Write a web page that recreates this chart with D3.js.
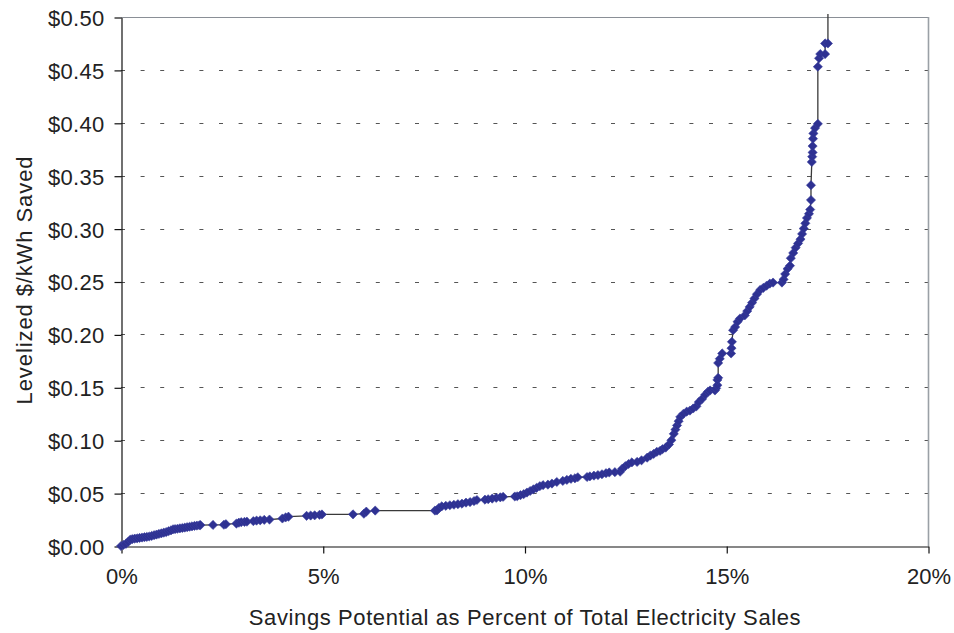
<!DOCTYPE html>
<html>
<head>
<meta charset="utf-8">
<script src="https://cdn.jsdelivr.net/npm/d3@7"></script>
<style>
  html, body { margin: 0; padding: 0; background: #fff; }
  svg { display: block; }
  text { font-family: "Liberation Sans", Arial, Helvetica, sans-serif; fill: #222; }
</style>
</head>
<body>
<svg id="chart" width="954" height="633"></svg>
<script>
// ---- Data ----
// Savings potential (% of total electricity sales), cumulative
const savingsPct = [
  0, 0.06, 0.12, 0.18, 0.23, 0.28, 0.34, 0.40, 0.46, 0.52, 0.58, 0.64, 0.70, 0.76, 0.82, 0.88, 0.94, 1.00,
  1.06, 1.12, 1.18, 1.24, 1.29, 1.34, 1.40, 1.46, 1.52, 1.58, 1.64, 1.70, 1.76, 1.82, 1.88, 1.94, 1.97,
  2.28, 2.55, 2.60, 2.86, 2.92, 2.98, 3.06, 3.12, 3.28, 3.36, 3.45, 3.55, 3.68, 4.00, 4.08, 4.15,
  4.60, 4.70, 4.80, 4.92, 4.98,
  5.75, 6.02, 6.08, 6.30, 7.78, 7.83, 7.88, 7.95, 8.05, 8.15, 8.25, 8.35, 8.45, 8.55, 8.65, 8.75, 8.82,
  9.02, 9.10, 9.20, 9.30, 9.40, 9.47, 9.76, 9.82, 9.90, 9.98, 10.06, 10.14, 10.22, 10.30, 10.38, 10.46,
  10.58, 10.68, 10.80, 10.95, 11.05, 11.15, 11.25, 11.32, 11.55, 11.62, 11.72, 11.82, 11.92, 12.02, 12.10,
  12.24, 12.37, 12.42, 12.50, 12.58, 12.66, 12.79, 12.90, 13.04, 13.12, 13.20, 13.28, 13.36, 13.42, 13.50,
  13.58, 13.64, 13.70, 13.74, 13.78, 13.82, 13.86, 13.94, 14.02, 14.10, 14.18, 14.26, 14.32, 14.40, 14.48,
  14.55, 14.60, 14.72, 14.75, 14.78, 14.78, 14.80, 14.80, 14.84, 14.90, 15.12, 15.13, 15.14, 15.17, 15.22,
  15.28, 15.34, 15.46, 15.52, 15.58, 15.64, 15.70, 15.76, 15.84, 15.92, 16.00, 16.08, 16.16, 16.38, 16.42,
  16.46, 16.52, 16.58, 16.60, 16.66, 16.72, 16.78, 16.84, 16.88, 16.92, 16.96, 17.00, 17.05, 17.08, 17.10,
  17.10, 17.12, 17.13, 17.14, 17.14, 17.15, 17.16, 17.20, 17.27, 17.27, 17.30, 17.33, 17.45, 17.45, 17.52,
  17.52
];
// Levelized cost ($/kWh saved)
const levelizedCost = [
  0, 0.001, 0.002, 0.004, 0.006, 0.0065, 0.007, 0.0072, 0.0076, 0.008, 0.0083, 0.0086, 0.009, 0.0095, 0.0102, 0.0108, 0.0114, 0.012,
  0.0126, 0.0132, 0.014, 0.0148, 0.0158, 0.016, 0.0163, 0.0167, 0.017, 0.0174, 0.0178, 0.0182, 0.0186, 0.019, 0.0193, 0.0196, 0.0198,
  0.0199, 0.0201, 0.0206, 0.0212, 0.022, 0.0225, 0.0228, 0.023, 0.0235, 0.024, 0.0243, 0.0247, 0.025, 0.026, 0.027, 0.0277,
  0.0285, 0.0288, 0.029, 0.0295, 0.0298,
  0.0299, 0.0305, 0.0325, 0.0335, 0.0335, 0.0336, 0.036, 0.0375, 0.038, 0.0385, 0.039, 0.0395, 0.040, 0.041, 0.0415, 0.0425, 0.0435,
  0.0438, 0.0442, 0.0448, 0.0455, 0.046, 0.0465, 0.0468, 0.047, 0.048, 0.049, 0.0505, 0.052, 0.0535, 0.055, 0.0565, 0.0575,
  0.058, 0.059, 0.0605, 0.0615, 0.0625, 0.0635, 0.064, 0.065, 0.0652, 0.0658, 0.0665, 0.067, 0.0678, 0.0688, 0.0695,
  0.0698, 0.0702, 0.073, 0.0755, 0.0775, 0.079, 0.0795, 0.081, 0.0835, 0.0855, 0.087, 0.089, 0.090, 0.0915, 0.093,
  0.096, 0.100, 0.106, 0.110, 0.114, 0.118, 0.122, 0.125, 0.127, 0.128, 0.130, 0.132, 0.136, 0.139, 0.143,
  0.146, 0.147, 0.147, 0.149, 0.152, 0.157, 0.159, 0.173, 0.177, 0.182, 0.182, 0.187, 0.193, 0.204, 0.207,
  0.212, 0.215, 0.218, 0.222, 0.226, 0.230, 0.234, 0.238, 0.242, 0.244, 0.246, 0.248, 0.249, 0.249, 0.252,
  0.257, 0.262, 0.265, 0.272, 0.277, 0.282, 0.286, 0.290, 0.295, 0.300, 0.305, 0.310, 0.314, 0.318, 0.327,
  0.341, 0.363, 0.368, 0.372, 0.378, 0.385, 0.390, 0.395, 0.399, 0.453, 0.461, 0.465, 0.465, 0.475, 0.475,
  0.55
];
const yTicks = [0, 0.05, 0.10, 0.15, 0.20, 0.25, 0.30, 0.35, 0.40, 0.45, 0.50];
const xTicks = [0, 0.05, 0.10, 0.15, 0.20];
const xTitle = "Savings Potential as Percent of Total Electricity Sales";
const yTitle = "Levelized $/kWh Saved";

(function () {
  // ---- Layout ----
  const svg = d3.select("#chart");
  const pL = 121, pR = 928, pT = 17, pB = 546;
  const x = d3.scaleLinear().domain([0, 0.20]).range([pL, pR]);
  const y = d3.scaleLinear().domain([0, 0.50]).range([pB, pT]);
  const fontSize = 22;
  const ff = '"Liberation Sans", Arial, sans-serif';

  // Gridlines (dashed)
  svg.append("g").selectAll("line")
    .data(yTicks.filter(v => v > 0 && v < 0.5))
    .join("line")
    .attr("x1", pL).attr("x2", pR)
    .attr("y1", d => Math.round(y(d)) + 0.5).attr("y2", d => Math.round(y(d)) + 0.5)
    .attr("stroke", "#555").attr("stroke-width", 1)
    .attr("stroke-dasharray", "4,15.6");

  // Top and right frame (gray)
  svg.append("line").attr("x1", pL).attr("x2", pR + 0.5)
    .attr("y1", pT + 0.5).attr("y2", pT + 0.5)
    .attr("stroke", "#8a8f96").attr("stroke-width", 1.2);
  svg.append("line").attr("x1", pR + 0.5).attr("x2", pR + 0.5)
    .attr("y1", pT).attr("y2", pB)
    .attr("stroke", "#9aa0a6").attr("stroke-width", 1.6);

  // Axes
  const yAxis = d3.axisLeft(y).tickValues(yTicks).tickSize(7).tickSizeOuter(0)
    .tickFormat(d3.format("$.2f")).tickPadding(10);
  const gy = svg.append("g").attr("transform", `translate(${pL + 0.5},0.5)`).call(yAxis);
  gy.selectAll("path").attr("stroke", "#111").attr("stroke-width", 1.2);
  gy.selectAll("line").attr("stroke", "#111").attr("stroke-width", 1.2);
  gy.selectAll("text").attr("font-size", fontSize).attr("fill", "#222")
    .attr("font-family", ff).attr("letter-spacing", "0.3px").attr("dy", "0.36em");

  const xAxis = d3.axisBottom(x).tickValues(xTicks).tickSize(7).tickSizeOuter(0)
    .tickFormat(d3.format(".0%")).tickPadding(15);
  const gx = svg.append("g").attr("transform", `translate(0.5,${pB + 0.5})`).call(xAxis);
  gx.selectAll("path").attr("stroke", "#111").attr("stroke-width", 1.2);
  gx.selectAll("line").attr("stroke", "#111").attr("stroke-width", 1.2);
  gx.selectAll("text").attr("font-size", fontSize).attr("fill", "#222")
    .attr("font-family", ff);

  // Axis titles
  svg.append("text").attr("x", 525).attr("y", 625)
    .attr("text-anchor", "middle").attr("font-size", fontSize)
    .attr("letter-spacing", "0.6px").text(xTitle);
  svg.append("text")
    .attr("transform", `translate(32,280) rotate(-90)`)
    .attr("text-anchor", "middle").attr("font-size", fontSize)
    .attr("letter-spacing", "0.9px").text(yTitle);

  // Clip for series (line slightly exceeds plot top)
  svg.append("clipPath").attr("id", "clip")
    .append("rect").attr("x", pL - 6).attr("y", 14).attr("width", pR - pL + 12).attr("height", pB - 14 + 6);

  const pts = savingsPct.map((p, i) => ({ x: p / 100, y: levelizedCost[i] }));
  const series = svg.append("g").attr("clip-path", "url(#clip)");

  series.append("path")
    .datum(pts)
    .attr("fill", "none")
    .attr("stroke", "#3a3a3a")
    .attr("stroke-width", 1.3)
    .attr("d", d3.line().x(d => x(d.x)).y(d => y(d.y)));

  const diamond = "M0,-4.6L4.6,0L0,4.6L-4.6,0Z";
  series.append("g").selectAll("path")
    .data(pts.filter(d => d.y <= 0.5))
    .join("path")
    .attr("d", diamond)
    .attr("transform", d => `translate(${x(d.x)},${y(d.y)})`)
    .attr("fill", "#2E3192")
    .attr("stroke", "#3a3f9e")
    .attr("stroke-width", 0.6);
})();
</script>
</body>
</html>
